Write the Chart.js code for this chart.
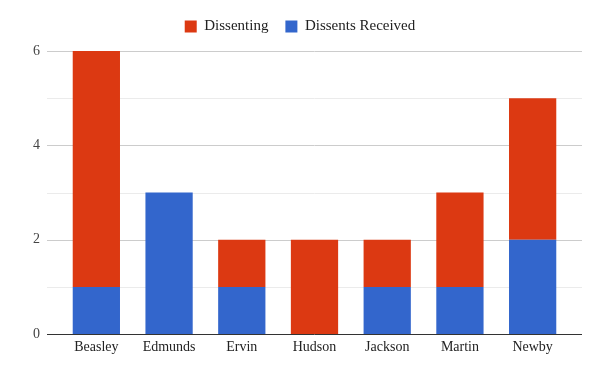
<!DOCTYPE html>
<html>
<head>
<meta charset="utf-8">
<script src="https://cdn.jsdelivr.net/npm/chart.js@4"></script>
<style>
  html, body { margin: 0; padding: 0; background: #fff; }
  #wrap { width: 600px; height: 371px; }
</style>
</head>
<body>
<div id="wrap"><canvas id="chart"></canvas></div>
<script>
const judges = ["Beasley", "Edmunds", "Ervin", "Hudson", "Jackson", "Martin", "Newby"];
const dissentsReceived = [1, 3, 1, 0, 1, 1, 2];
const dissenting = [5, 0, 1, 2, 1, 2, 3];
const yTicks = [0, 2, 4, 6];

// gridlines stick out past the bars a bit, like the Google chart
const gridPlugin = {
  id: "grid",
  beforeInit(chart) {
    // extra room under the legend
    const fit = chart.legend.fit;
    chart.legend.fit = function () {
      fit.bind(chart.legend)();
      this.height += 7;
    };
  },
  beforeDatasetsDraw(chart) {
    const { ctx, chartArea, scales } = chart;
    const y = scales.y;
    ctx.save();
    y.ticks.forEach(function (t) {
      if (t.value === 0) return;
      const py = Math.round(y.getPixelForValue(t.value)) + 0.5;
      ctx.strokeStyle = t.value % 2 === 0 ? "#cccccc" : "#ebebeb";
      ctx.lineWidth = 1;
      ctx.beginPath();
      ctx.moveTo(chartArea.left - 13, py);
      ctx.lineTo(chartArea.right + 13, py);
      ctx.stroke();
    });
    ctx.restore();
  },
  afterDatasetsDraw(chart) {
    const { ctx, chartArea, scales } = chart;
    const py = Math.round(scales.y.getPixelForValue(0)) + 0.5;
    ctx.save();
    ctx.strokeStyle = "#333333";
    ctx.lineWidth = 1;
    ctx.beginPath();
    ctx.moveTo(chartArea.left - 13, py);
    ctx.lineTo(chartArea.right + 13, py);
    ctx.stroke();
    ctx.restore();
  },
};

const ctx = document.getElementById("chart").getContext("2d");

new Chart(ctx, {
  type: "bar",
  data: {
    labels: judges,
    datasets: [
      {
        label: "Dissents Received",
        data: dissentsReceived,
        backgroundColor: "#3366cc",
        stack: "s",
      },
      {
        label: "Dissenting",
        data: dissenting,
        backgroundColor: "#dc3912",
        stack: "s",
      },
    ],
  },
  options: {
    responsive: true,
    maintainAspectRatio: false,
    animation: false,
    layout: {
      padding: { left: 0, right: 0, top: 2, bottom: 10 },
    },
    datasets: {
      bar: {
        categoryPercentage: 1,
        barPercentage: 0.65,
      },
    },
    scales: {
      x: {
        stacked: true,
        grid: { display: false, drawTicks: false },
        border: { display: false },
        ticks: {
          color: "#222",
          padding: 5,
          font: { family: "Liberation Serif", size: 14 },
        },
      },
      y: {
        stacked: true,
        min: 0,
        max: 6,
        grid: { display: false, drawTicks: false },
        border: { display: false },
        afterFit: function (scale) {
          scale.width = 60;
        },
        ticks: {
          stepSize: 1,
          color: "#444",
          padding: 20,
          font: { family: "Liberation Serif", size: 14 },
          callback: function (value) {
            return yTicks.includes(value) ? value : "";
          },
        },
      },
      // empty right axis, only keeps room on the right side
      yRight: {
        position: "right",
        grid: { display: false, drawTicks: false },
        border: { display: false },
        ticks: { display: false },
        afterFit: function (scale) {
          scale.width = 31;
        },
      },
    },
    plugins: {
      legend: {
        position: "top",
        reverse: true,
        labels: {
          boxWidth: 12,
          boxHeight: 12,
          padding: 17,
          color: "#222",
          font: { family: "Liberation Serif", size: 15 },
        },
      },
      tooltip: { enabled: false },
    },
  },
  plugins: [gridPlugin],
});
</script>
</body>
</html>
